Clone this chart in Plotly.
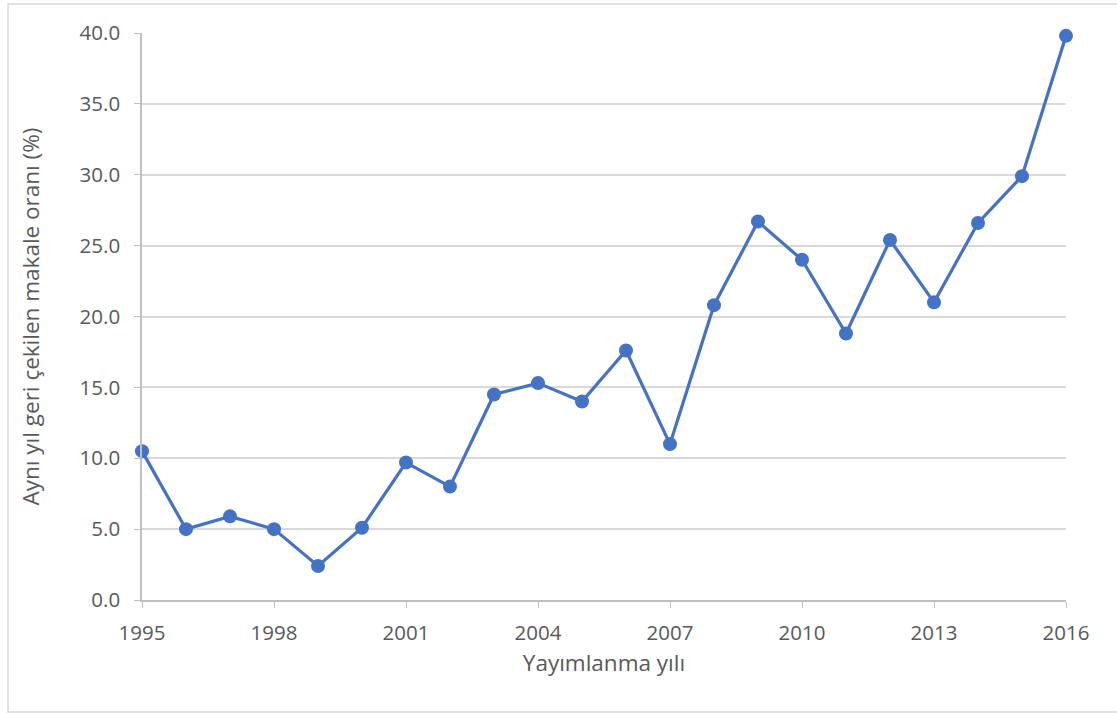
import plotly.graph_objects as go

years = list(range(1995, 2017))
rates = [10.5, 5.0, 5.9, 5.0, 2.4, 5.1, 9.7, 8.0, 14.5, 15.3, 14.0, 17.6,
         11.0, 20.8, 26.7, 24.0, 18.8, 25.4, 21.0, 26.6, 29.9, 39.8]
x_ticks = [1995, 1998, 2001, 2004, 2007, 2010, 2013, 2016]
y_ticks = [0, 5, 10, 15, 20, 25, 30, 35, 40]

blue = "#4472C4"
txt = "#595959"
font_family = "Open Sans, Noto Sans, sans-serif"

fig = go.Figure()
fig.add_trace(go.Scatter(
    x=years, y=rates, mode="lines+markers",
    line=dict(color=blue, width=3.2),
    marker=dict(color=blue, size=14),
    cliponaxis=False, showlegend=False,
))

fig.update_layout(
    width=1117, height=713,
    margin=dict(l=142, r=51, t=33, b=113),
    paper_bgcolor="white", plot_bgcolor="white",
    font=dict(family=font_family, color=txt, size=20),
    xaxis=dict(
        range=[1995, 2016], tickmode="array", tickvals=x_ticks,
        ticktext=[str(v) for v in x_ticks],
        showgrid=False, showline=True, linecolor="#bfbfbf", linewidth=1.5,
        ticks="outside", ticklen=6, tickcolor="#bfbfbf",
        ticklabelstandoff=8,
        tickfont=dict(size=20.5, color=txt),
        title=dict(text="Yayımlanma yılı", font=dict(size=22.5, color=txt), standoff=10),
        zeroline=False,
    ),
    yaxis=dict(
        range=[0, 40], tickmode="array", tickvals=y_ticks,
        ticktext=[f"{v:.1f}" for v in y_ticks],
        showgrid=True, gridcolor="#d9d9d9", gridwidth=1.5,
        showline=True, linecolor="#bfbfbf", linewidth=1.5,
        ticks="outside", ticklen=6, tickcolor="#bfbfbf",
        ticklabelstandoff=10,
        tickfont=dict(size=20.5, color=txt),
        title=dict(text="Aynı yıl geri çekilen makale oranı (%)", font=dict(size=22.5, color=txt), standoff=34),
        zeroline=False,
    ),
    shapes=[dict(type="rect", xref="paper", yref="paper",
                 x0=-0.145, x1=1.064, y0=-0.1975, y1=1.0511,
                 line=dict(color="#d9d9d9", width=1.5), fillcolor="rgba(0,0,0,0)",
                 layer="below")],
)

fig.write_html("out.html", config={"displayModeBar": False},
               post_script="document.body.style.margin='0';")
